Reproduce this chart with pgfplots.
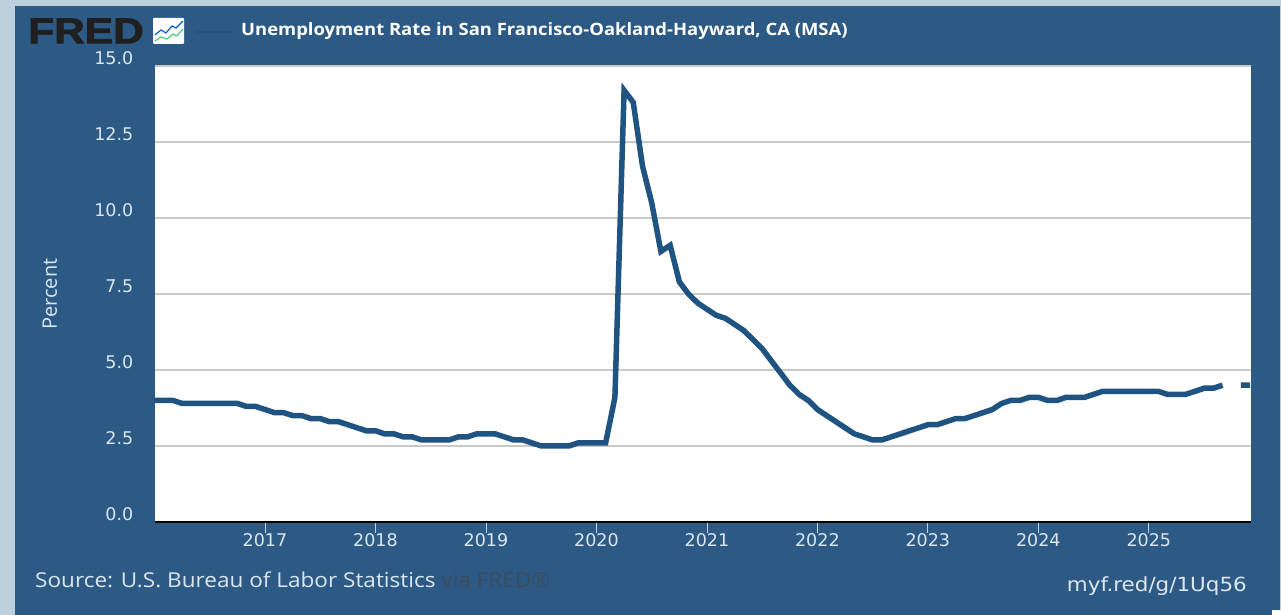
\documentclass[border=0pt]{standalone}
\usepackage{pgfplots}
\usepackage{pgfplotstable}
\usepackage{fontspec}
\pgfplotsset{compat=1.18}
\setmainfont{Open Sans}
\newfontfamily\libfont{Liberation Sans}
\newfontfamily\djfont{DejaVu Sans}
\definecolor{panel}{HTML}{2C5A85}
\definecolor{outer}{HTML}{BDD0DE}
\definecolor{series}{HTML}{1F5382}
\definecolor{labeltxt}{HTML}{DCE6EE}
\definecolor{gridc}{HTML}{C9C9C9}
\pgfplotstableread{
x y
2016.000 4.0
2016.083 4.0
2016.167 4.0
2016.250 3.9
2016.333 3.9
2016.417 3.9
2016.500 3.9
2016.583 3.9
2016.667 3.9
2016.750 3.9
2016.833 3.8
2016.917 3.8
2017.000 3.7
2017.083 3.6
2017.167 3.6
2017.250 3.5
2017.333 3.5
2017.417 3.4
2017.500 3.4
2017.583 3.3
2017.667 3.3
2017.750 3.2
2017.833 3.1
2017.917 3.0
2018.000 3.0
2018.083 2.9
2018.167 2.9
2018.250 2.8
2018.333 2.8
2018.417 2.7
2018.500 2.7
2018.583 2.7
2018.667 2.7
2018.750 2.8
2018.833 2.8
2018.917 2.9
2019.000 2.9
2019.083 2.9
2019.167 2.8
2019.250 2.7
2019.333 2.7
2019.417 2.6
2019.500 2.5
2019.583 2.5
2019.667 2.5
2019.750 2.5
2019.833 2.6
2019.917 2.6
2020.000 2.6
2020.083 2.6
2020.167 4.1
2020.250 14.2
2020.333 13.8
2020.417 11.7
2020.500 10.5
2020.583 8.9
2020.667 9.1
2020.750 7.9
2020.833 7.5
2020.917 7.2
2021.000 7.0
2021.083 6.8
2021.167 6.7
2021.250 6.5
2021.333 6.3
2021.417 6.0
2021.500 5.7
2021.583 5.3
2021.667 4.9
2021.750 4.5
2021.833 4.2
2021.917 4.0
2022.000 3.7
2022.083 3.5
2022.167 3.3
2022.250 3.1
2022.333 2.9
2022.417 2.8
2022.500 2.7
2022.583 2.7
2022.667 2.8
2022.750 2.9
2022.833 3.0
2022.917 3.1
2023.000 3.2
2023.083 3.2
2023.167 3.3
2023.250 3.4
2023.333 3.4
2023.417 3.5
2023.500 3.6
2023.583 3.7
2023.667 3.9
2023.750 4.0
2023.833 4.0
2023.917 4.1
2024.000 4.1
2024.083 4.0
2024.167 4.0
2024.250 4.1
2024.333 4.1
2024.417 4.1
2024.500 4.2
2024.583 4.3
2024.667 4.3
2024.750 4.3
2024.833 4.3
2024.917 4.3
2025.000 4.3
2025.083 4.3
2025.167 4.2
2025.250 4.2
2025.333 4.2
2025.417 4.3
2025.500 4.4
2025.583 4.4
2025.667 4.5
2025.750 nan
2025.833 4.5
2025.917 4.5
}\ratedata
\begin{document}
\begin{tikzpicture}[x=1pt,y=1pt]
\useasboundingbox (0,0) rectangle (1281,615);
\fill[outer] (0,0) rectangle (1281,615);
\fill[panel] (15,0) rectangle (1280,609);
\fill[white] (1272,0) rectangle (1281,5);
% logo
\node[anchor=center,text=black!88,inner sep=0] at (86,584)
  {\scalebox{1.18}[1.0]{\fontsize{36}{36}\libfont\bfseries\addfontfeature{FakeBold=2} FRED}};
\fill[white,rounded corners=1pt] (153,571) rectangle (184,597);
\draw[blue!55!cyan!80!black,line width=1.2pt] (155,580)--(161,585)--(166,582)--(172,589)--(176,587)--(183,594);
\draw[teal!60!green!70,line width=1.2pt] (155,574)--(161,578)--(167,576)--(173,581)--(177,579)--(183,586);
% legend
\draw[series!90!panel,line width=2.5pt] (196,583)--(232,583);
\node[anchor=west,text=white,inner sep=0] at (241,584)
  {\scalebox{1.085}[1]{\fontsize{17}{18}\selectfont\bfseries Unemployment Rate in San Francisco-Oakland-Hayward, CA (MSA)}};
\begin{axis}[
  at={(154.5pt,93pt)},anchor=south west,
  scale only axis,width=1096pt,height=456pt,
  xmin=2016,xmax=2025.92,ymin=0,ymax=15,
  axis x line*=bottom,axis y line*=left,
  axis background/.style={fill=white},
  y axis line style={draw=none},
  x axis line style={black,line width=2.4pt,-},
  xtick={2017,...,2025},
  ytick={0,2.5,5,7.5,10,12.5,15},
  xticklabel style={/pgf/number format/1000 sep={},text=labeltxt,font=\fontsize{17.5}{18}\djfont,inner sep=0pt,yshift=0pt},
  yticklabel style={/pgf/number format/fixed,/pgf/number format/fixed zerofill,/pgf/number format/precision=1,text=labeltxt,font=\fontsize{17.5}{18}\djfont,inner sep=0pt,xshift=-10pt,yshift=8pt},
  /pgf/number format/assume math mode=true,
  tick align=outside,
  x tick style={draw=labeltxt!85!panel,line width=0.8pt},
  major tick length=11pt,
  y tick style={draw=none},
  ymajorgrids,
  grid style={gridc,line width=2.4pt},
  ylabel={Percent},
  ylabel style={text=labeltxt,font=\fontsize{20}{20}\selectfont,at={(axis description cs:0,0.5)},anchor=south,yshift=94pt},
  unbounded coords=jump,
]
\addplot[series,line width=5.5pt,line join=miter,miter limit=8,no markers] table[x=x,y=y] {\ratedata};
\end{axis}
\node[anchor=west,text=labeltxt,inner sep=0] at (35,35)
  {\scalebox{1.1}[1]{\fontsize{20.5}{22}\selectfont Source: U.S. Bureau of Labor Statistics \textcolor[HTML]{3D4C5C}{via FRED®}}};
\node[anchor=east,text=labeltxt,inner sep=0] at (1247,28.5)
  {\scalebox{1.1}[1]{\fontsize{19.5}{20}\djfont myf.red/g/1Uq56}};
\end{tikzpicture}
\end{document}
